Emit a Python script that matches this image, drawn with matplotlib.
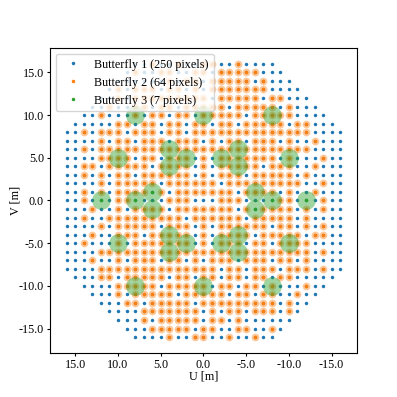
import matplotlib
matplotlib.use("Agg")
import matplotlib.pyplot as plt
from matplotlib.ticker import FixedLocator, FixedFormatter

plt.rcParams['font.family'] = ['Liberation Serif', 'DejaVu Serif']
plt.rcParams['font.size'] = 8.7
plt.rcParams['axes.unicode_minus'] = False
plt.rcParams['xtick.major.size'] = 2.5
plt.rcParams['ytick.major.size'] = 2.5
plt.rcParams['xtick.major.pad'] = 1.5
plt.rcParams['ytick.major.pad'] = 1.5

# ---- data ----
labels = ["Butterfly 1 (250 pixels)", "Butterfly 2 (64 pixels)", "Butterfly 3 (7 pixels)"]
colors = ["#1f77b4", "#ff7f0e", "#2ca02c"]

# Butterfly 1: every grid point of each row V, from -w to +w in U
b1_rows_v = list(range(-16, 17))
b1_row_halfwidth = [8, 9, 10, 11, 12, 13, 14, 15,
                    16, 16, 16, 16, 16, 16, 16, 16, 16, 16, 16, 16, 16, 16, 16, 16, 16,
                    15, 14, 13, 12, 11, 10, 9, 8]

# Butterfly 2: U values per row V
b2_rows = {
    16: [6, 3, 0, -1, -4],
    15: [8, 5, 4, 1, 0, -2, -3, -4, -5, -6],
    14: [4, 2, 1, -1, -2, -3, -4, -5, -7],
    13: [10, 8, 7, 6, 4, 3, 1, -1, -2, -3, -4, -5, -6, -7],
    12: [10, 8, 7, 6, 5, 4, 3, 2, 1, 0, -2, -3, -4, -5, -6, -8, -9],
    11: [11, 8, 7, 5, 4, 2, 1, 0, -1, -2, -4, -5, -6, -7, -8, -10],
    10: [12, 8, 6, 5, 3, 2, 0, -1, -2, -3, -4, -6, -7, -8, -9, -10],
    9: [10, 9, 7, 6, 4, 3, 1, 0, -2, -3, -5, -6, -7, -8, -9, -11, -12],
    8: [14, 12, 11, 10, 8, 7, 6, 4, 3, 1, 0, -1, -2, -3, -4, -5, -6, -7, -8, -9, -10, -11, -12],
    7: [12, 10, 9, 7, 6, 5, 3, 2, 1, -1, -3, -4, -6, -7, -8, -10, -13],
    6: [14, 12, 11, 10, 9, 8, 7, 6, 5, 4, 3, 2, 1, 0, -1, -2, -3, -4, -5, -6, -7, -8, -9, -10, -11, -12],
    5: [12, 11, 10, 9, 7, 6, 4, 3, 2, 0, -2, -3, -4, -5, -6, -7, -8, -10, -14],
    4: [14, 13, 11, 10, 9, 8, 7, 5, 4, 3, 2, 0, -2, -3, -4, -5, -6, -8, -9, -10, -13],
    3: [14, 12, 10, 9, 7, 6, 5, 4, 3, 2, 0, -2, -3, -4, -6, -7, -8, -9, -10, -12],
    2: [12, 10, 9, 8, 7, 6, 4, 3, 2, 1, 0, -1, -3, -4, -5, -6, -7, -8, -9, -10, -11, -14],
    1: [14, 12, 10, 9, 8, 7, 5, 3, 2, 1, 0, -1, -2, -3, -5, -6, -7, -8, -10, -13],
    0: [14, 10, 9, 4, 3, 2, -2, -3, -4, -9, -10, -14],
    -1: [13, 10, 8, 7, 6, 5, 3, 2, 1, 0, -1, -2, -3, -5, -7, -8, -9, -10, -12, -14],
    -2: [14, 11, 10, 9, 8, 7, 6, 5, 4, 3, 1, 0, -1, -2, -3, -4, -6, -7, -8, -9, -10, -12],
    -3: [12, 10, 9, 8, 7, 6, 4, 3, 2, 0, -2, -3, -4, -5, -6, -7, -9, -10, -12, -14],
    -4: [13, 10, 9, 8, 6, 5, 4, 3, 2, 0, -2, -3, -4, -5, -7, -8, -9, -10, -11, -13, -14],
    -5: [14, 10, 8, 7, 6, 5, 4, 3, 2, 0, -2, -3, -4, -6, -7, -9, -10, -11, -12],
    -6: [12, 11, 10, 9, 8, 7, 6, 5, 4, 3, 2, 1, 0, -1, -2, -3, -4, -5, -6, -7, -8, -9, -10, -11, -12, -14],
    -7: [13, 10, 8, 7, 6, 4, 3, 1, -1, -2, -3, -5, -6, -7, -9, -10, -12],
    -8: [12, 11, 10, 9, 8, 7, 6, 5, 4, 3, 2, 1, 0, -1, -3, -4, -6, -7, -8, -10, -11, -12, -14],
    -9: [12, 11, 9, 8, 7, 6, 5, 3, 2, 0, -1, -3, -4, -6, -7, -9, -10],
    -10: [10, 9, 8, 7, 6, 4, 3, 2, 1, 0, -2, -3, -5, -6, -8, -12],
    -11: [10, 8, 7, 6, 5, 4, 2, 1, 0, -1, -2, -4, -5, -7, -8, -11],
    -12: [9, 8, 6, 5, 4, 3, 2, 0, -1, -2, -3, -4, -5, -6, -7, -8, -10],
    -13: [7, 6, 5, 4, 3, 2, 1, -1, -3, -4, -6, -7, -8, -10],
    -14: [7, 5, 4, 3, 2, 1, -1, -2, -4],
    -15: [6, 5, 4, 3, 2, 0, -1, -4, -5, -8],
    -16: [4, 1, 0, -3, -6],
}

# Butterfly 3 points
b3_u = [8, 0, -8, 10, 2, -2, -10, 4, 4, -4, -4, 12, 8, -8, -12, 6, 6, -6, -6,
        10, 2, -2, -10, 4, 4, -4, -4, 8, 0, -8]
b3_v = [10, 10, 10, 5, 5, 5, 5, 6, 4, 6, 4, 0, 0, 0, 0, 1, -1, 1, -1,
        -5, -5, -5, -5, -6, -4, -6, -4, -10, -10, -10]

tick_values = [15, 10, 5, 0, -5, -10, -15]
tick_labels = ["15.0", "10.0", "5.0", "0.0", "-5.0", "-10.0", "-15.0"]

# ---- build point lists ----
b1_u, b1_v = [], []
for v, w in zip(b1_rows_v, b1_row_halfwidth):
    for u in range(-w, w + 1):
        b1_u.append(u)
        b1_v.append(v)

b2_u, b2_v = [], []
for v, us in b2_rows.items():
    for u in us:
        b2_u.append(u)
        b2_v.append(v)

fig = plt.figure(figsize=(3.97, 3.97), dpi=100)
ax = fig.add_subplot(111)

small = 2.5
ax.plot(b1_u, b1_v, 'o', ms=small, mew=0, color=colors[0], label=labels[0], zorder=2)
ax.plot(b3_u, b3_v, 'o', ms=small, mew=0, color=colors[2], zorder=2.1)
ax.plot(b2_u, b2_v, 'o', ms=small, mew=0, color=colors[1], label=labels[1], zorder=2.2)
ax.plot(b2_u, b2_v, 'o', ms=5.6, mew=0, color=colors[1], alpha=0.42, zorder=3)
ax.plot(b3_u, b3_v, 'o', ms=13.5, mew=0, color=colors[2], alpha=0.45, zorder=4)
# legend proxy for Butterfly 3
ax.plot([], [], 'o', ms=small, mew=0, color=colors[2], label=labels[2])

ax.set_xlim(18, -18)
ax.set_ylim(-17.9, 17.9)
ax.xaxis.set_major_locator(FixedLocator(tick_values))
ax.xaxis.set_major_formatter(FixedFormatter(tick_labels))
ax.yaxis.set_major_locator(FixedLocator(tick_values))
ax.yaxis.set_major_formatter(FixedFormatter(tick_labels))
ax.set_xlabel("U [m]", labelpad=0.0)
ax.set_ylabel("V [m]", labelpad=-2.0)

ax.legend(loc="upper left", handlelength=2.0, borderaxespad=0.5)

fig.savefig("out.png", dpi=100)
